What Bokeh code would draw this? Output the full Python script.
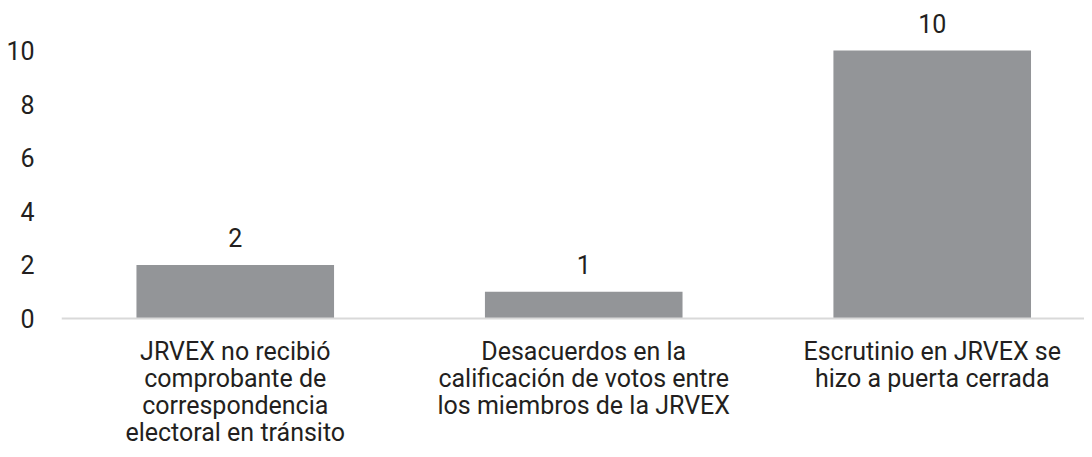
from bokeh.plotting import figure
from bokeh.models import Range1d, FixedTicker, Span, ColumnDataSource
from bokeh.core.properties import value
from bokeh.embed import file_html
from bokeh.resources import INLINE

categories = [
    "JRVEX no recibió\ncomprobante de\ncorrespondencia\nelectoral en tránsito",
    "Desacuerdos en la\ncalificación de votos entre\nlos miembros de la JRVEX",
    "Escrutinio en JRVEX se\nhizo a puerta cerrada",
]
values = [2, 1, 10]
y_ticks = [0, 2, 4, 6, 8, 10]

FONT = "Roboto"
TXT = "#231f20"

p = figure(width=1084, height=449, output_backend="svg", toolbar_location=None,
           x_range=Range1d(-0.4986, 2.437), y_range=Range1d(-4.888, 11.866),
           min_border_left=61, min_border_right=0, min_border_top=0, min_border_bottom=0)
p.outline_line_color = None
p.xaxis.visible = False
p.xgrid.visible = False
p.ygrid.visible = False
p.background_fill_color = "white"

ax = p.yaxis[0]
ax.ticker = FixedTicker(ticks=y_ticks)
ax.axis_line_color = None
ax.major_tick_line_color = None
ax.minor_tick_line_color = None
ax.major_tick_out = 0
ax.major_tick_in = 0
ax.major_label_standoff = 27
ax.major_label_text_font = FONT
ax.major_label_text_font_size = "25px"
ax.major_label_text_color = TXT

xs = list(range(len(values)))
src = ColumnDataSource(dict(x=xs, top=values, lab=[str(v) for v in values]))
p.vbar(x="x", top="top", bottom=0, width=0.567, source=src,
       fill_color="#939598", line_color=None)
p.add_layout(Span(location=0, dimension="width", line_color="#d9d9d9", line_width=2))

p.text(x="x", y="top", text="lab", source=src, y_offset=-27,
       text_align="center", text_baseline="middle",
       text_font=value(FONT), text_font_size="25px", text_color=TXT)

lx, ly, lt, loff = [], [], [], []
for i, c in enumerate(categories):
    for j, line in enumerate(c.split("\n")):
        lx.append(xs[i]); ly.append(0); lt.append(line); loff.append(33 + j * 27)
p.text(x=lx, y=ly, text=lt, y_offset=loff,
       text_align="center", text_baseline="alphabetic",
       text_font=value(FONT), text_font_size="25px", text_color=TXT)

open("out.html", "w").write(file_html(p, INLINE))
